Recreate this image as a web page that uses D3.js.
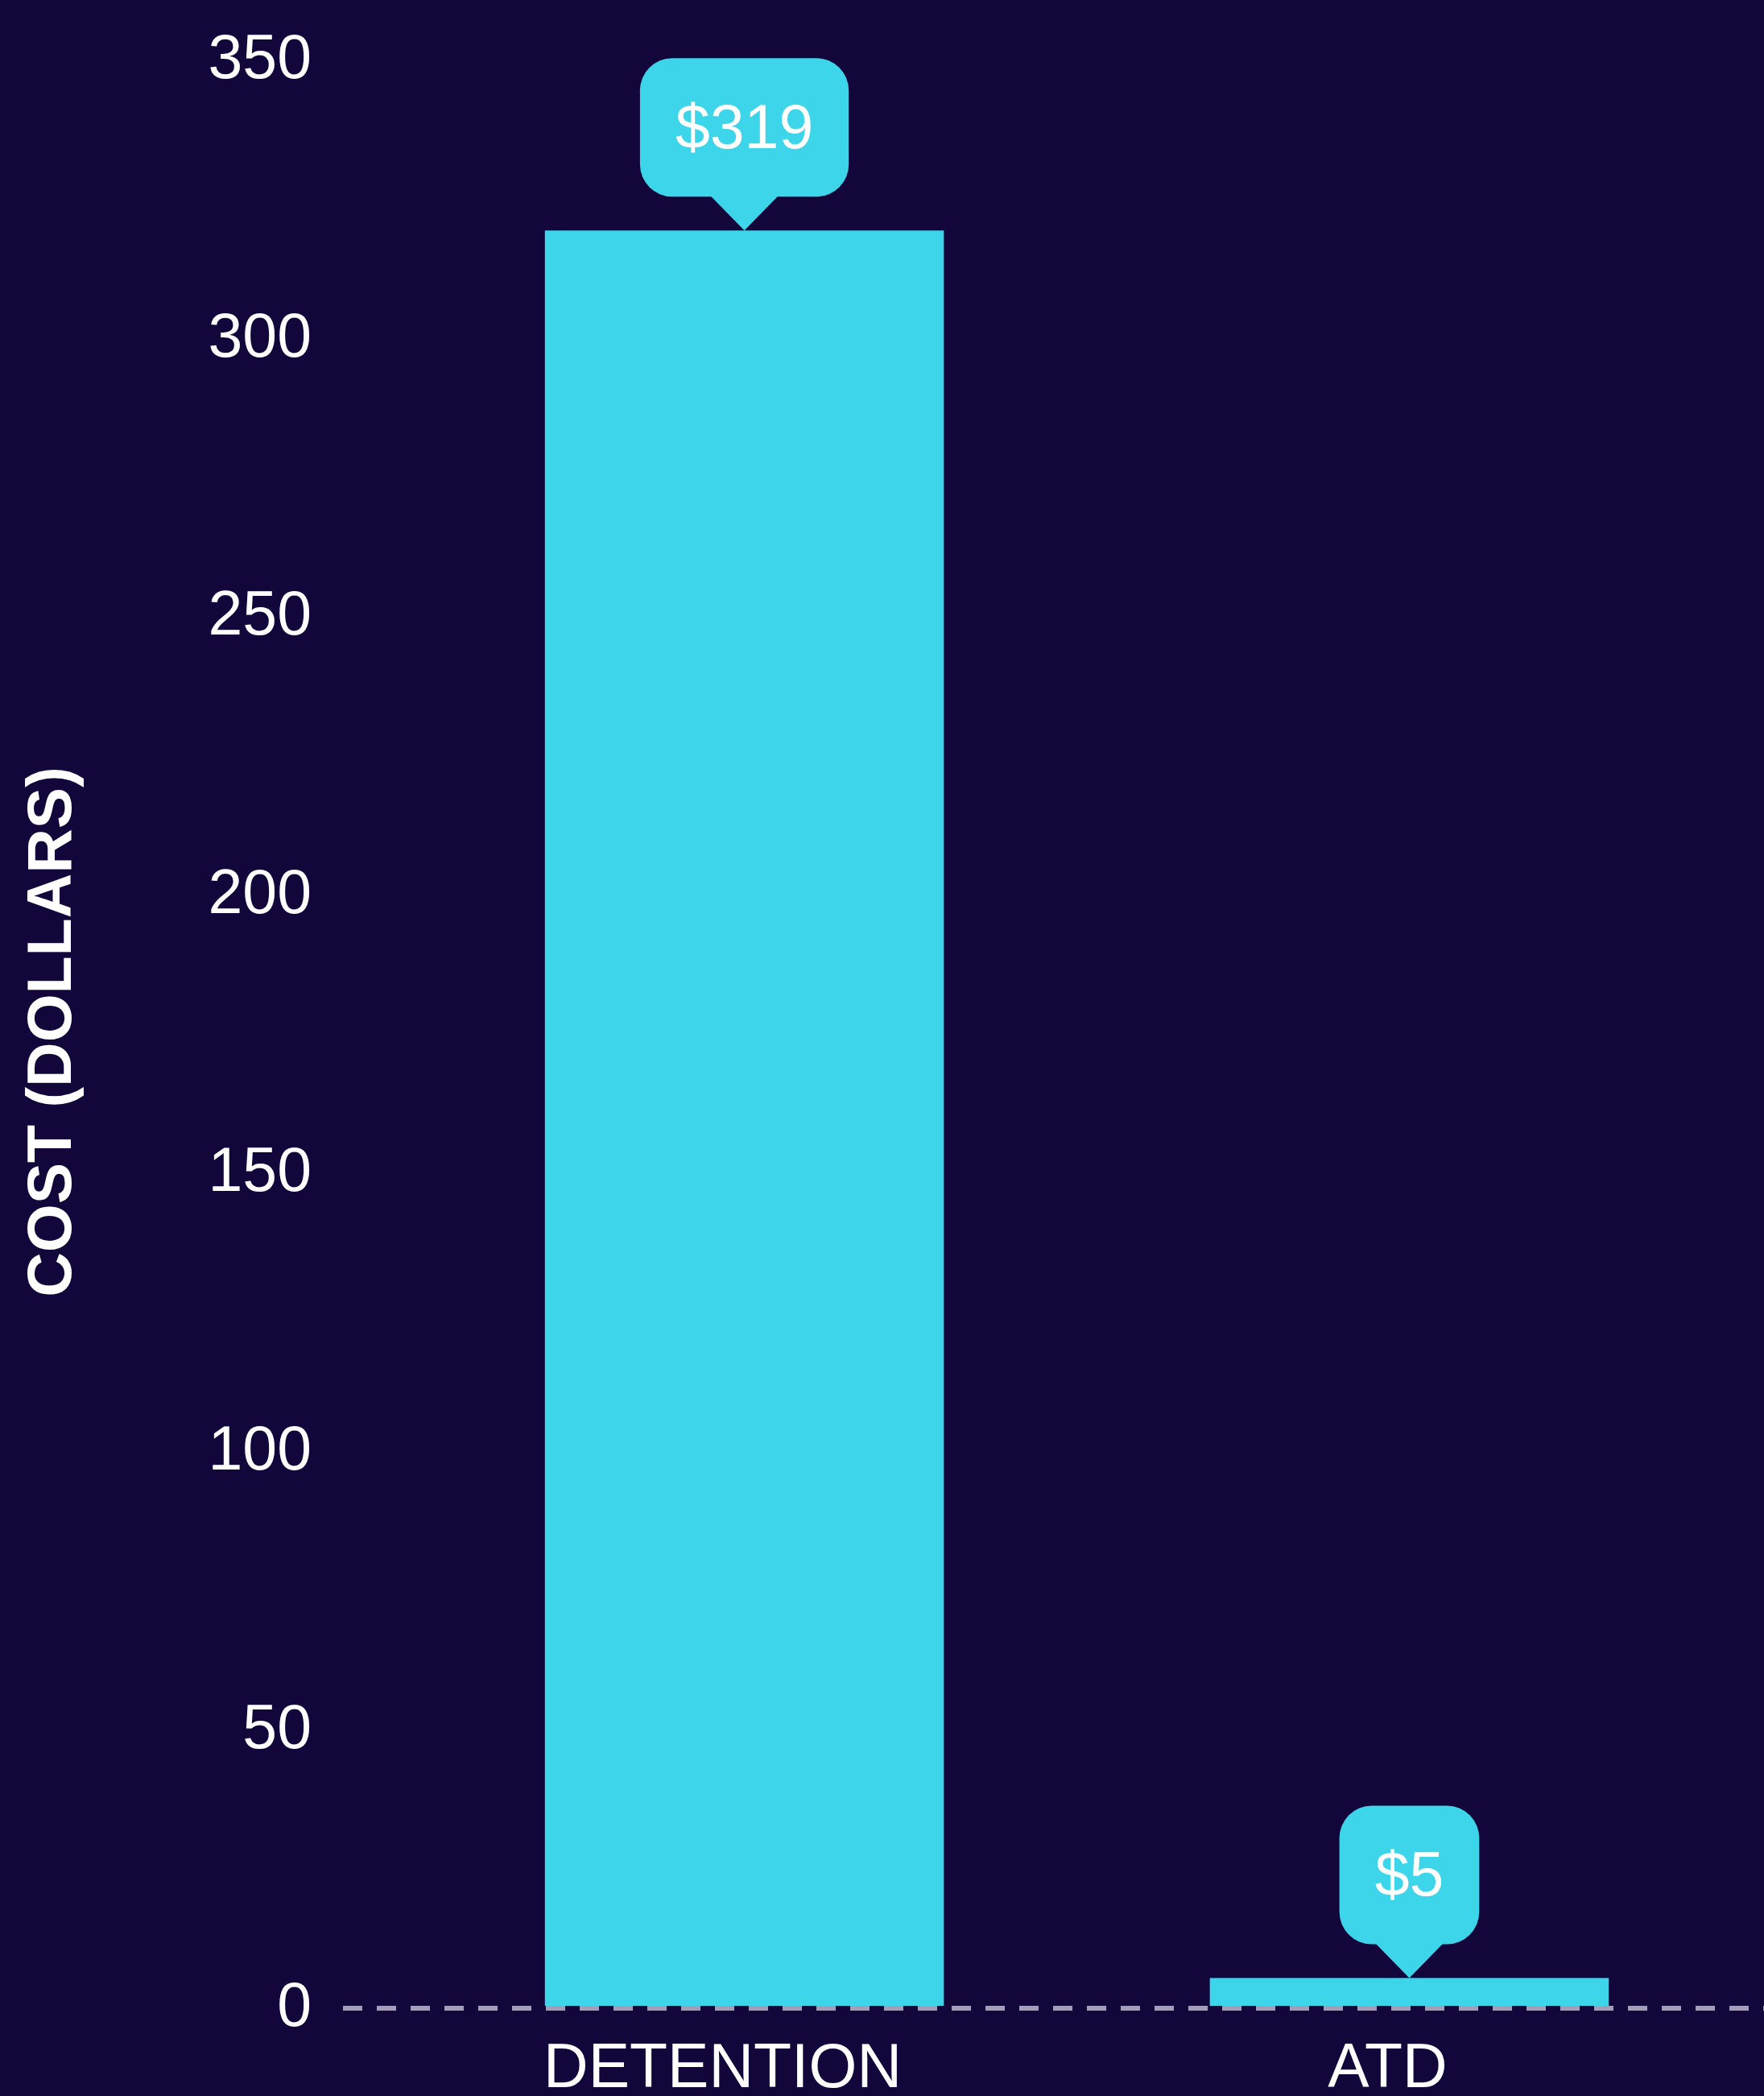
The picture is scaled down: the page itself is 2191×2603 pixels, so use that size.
<!DOCTYPE html>
<html>
<head>
    <meta charset="utf-8">
    <title>Cost per day</title>
    <script src="https://cdn.jsdelivr.net/npm/d3@7"></script>
    <style>
        html, body {
            margin: 0;
            padding: 0;
            background: #12063b;
        }

        svg {
            display: block;
            font-family: "Liberation Sans", Arial, Helvetica, sans-serif;
        }

        .bar, .bubble {
            fill: #3cd5ea;
        }

        .tick text {
            fill: #ffffff;
            font-size: 77px;
        }
    </style>
</head>
<body>
<svg></svg>
<script>

var categories = ['DETENTION', 'ATD'],
    costs = [319, 5],
    labels = ['$319', '$5'],
    yTicks = [0, 50, 100, 150, 200, 250, 300, 350];

var width = 2191,
    height = 2603,
    plotLeft = 429,
    plotRight = 2246,
    plotTop = 72,
    plotBottom = 2491;

var svg = d3.select('svg')
        .attr('width', width)
        .attr('height', height);

var x = d3.scaleBand()
        .domain(categories)
        .range([plotLeft, plotRight])
        .paddingInner(0.4)
        .paddingOuter(0.3);

var y = d3.scaleLinear()
        .domain([0, 350])
        .range([plotBottom, plotTop]);

// y axis: labels only
var yAxis = svg.append('g')
        .attr('transform', 'translate(' + (plotLeft - 3) + ',0)')
        .call(d3.axisLeft(y).tickValues(yTicks).tickSize(0).tickPadding(39));
yAxis.select('.domain').remove();
yAxis.selectAll('text').attr('font-family', null).attr('font-size', null);

svg.append('text')
        .attr('transform', 'translate(88,' + ((plotTop + plotBottom) / 2) + ') rotate(-90)')
        .attr('text-anchor', 'middle')
        .attr('fill', '#ffffff')
        .attr('font-size', 77)
        .attr('font-weight', 'bold')
        .text('COST (DOLLARS)');

var data = categories.map(function (c, i) {
    return {name: c, value: costs[i], label: labels[i]};
});

svg.selectAll('.bar')
        .data(data)
        .enter()
        .append('rect')
        .attr('class', 'bar')
        .attr('x', function (d) { return x(d.name); })
        .attr('y', function (d) { return y(d.value); })
        .attr('width', x.bandwidth())
        .attr('height', function (d) { return y(0) - y(d.value); });

// dashed baseline
svg.append('line')
        .attr('x1', plotLeft - 3)
        .attr('x2', width)
        .attr('y1', y(0) + 3)
        .attr('y2', y(0) + 3)
        .attr('stroke', '#a39dba')
        .attr('stroke-width', 6)
        .attr('stroke-dasharray', '24,18');

// x axis labels
var xAxis = svg.append('g')
        .attr('transform', 'translate(0,' + y(0) + ')')
        .call(d3.axisBottom(x).tickSize(0).tickPadding(46));
xAxis.select('.domain').remove();
xAxis.selectAll('text')
        .attr('font-family', null)
        .attr('font-size', null)
        .attr('dx', -27);

// value bubbles
var bubbleH = 172,
    pointerH = 42,
    pointerHalf = 42,
    pad = 44,
    radius = 40;

var bubbles = svg.selectAll('.label')
        .data(data)
        .enter()
        .append('g')
        .attr('class', 'label')
        .attr('transform', function (d) {
            return 'translate(' + (x(d.name) + x.bandwidth() / 2) + ',' + y(d.value) + ')';
        });

bubbles.each(function (d) {
    var g = d3.select(this);
    var t = g.append('text')
            .attr('text-anchor', 'middle')
            .attr('fill', '#ffffff')
            .attr('font-size', 77)
            .attr('y', -pointerH - bubbleH + 112)
            .text(d.label);
    var w = t.node().getComputedTextLength() + pad * 2;

    g.insert('rect', 'text')
            .attr('class', 'bubble')
            .attr('x', -w / 2)
            .attr('y', -pointerH - bubbleH)
            .attr('width', w)
            .attr('height', bubbleH)
            .attr('rx', radius)
            .attr('ry', radius);

    g.insert('path', 'text')
            .attr('class', 'bubble')
            .attr('d', 'M' + (-pointerHalf) + ',' + (-pointerH - 1) + 'L0,0L' + pointerHalf + ',' + (-pointerH - 1) + 'Z');
});

</script>
</body>
</html>
